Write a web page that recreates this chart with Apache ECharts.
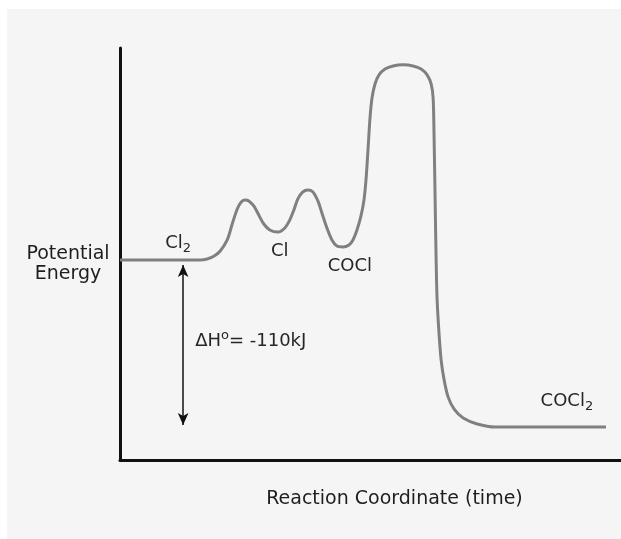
<!DOCTYPE html>
<html>
<head>
<meta charset="utf-8">
<script src="https://cdn.jsdelivr.net/npm/echarts@6/dist/echarts.min.js"></script>
<style>
  html, body { margin: 0; padding: 0; background: #fff; }
  #chart { width: 621px; height: 539px; }
</style>
</head>
<body>
<div id="chart"></div>
<script>
// reaction coordinate (0-100) and potential energy relative to Cl2 (kJ)
const coord = [0, 16.0, 17.4, 18.8, 20.0, 21.4, 22.4, 23.4, 24.2, 25.0, 25.7, 26.7, 27.7, 28.7, 29.9, 31.5,
  32.9, 33.9, 34.7, 35.5, 36.5, 37.5, 38.5, 39.5, 40.3, 41.3, 42.3, 43.3, 44.5, 45.7, 46.5, 47.3, 48.1,
  48.7, 49.1, 49.5, 49.9, 50.3, 50.9, 51.7, 52.9, 54.5, 56.5, 58.5, 60.1, 61.3, 62.1, 62.5,
  62.7, 62.9, 63.1, 63.3, 63.7, 64.1, 64.7, 65.5, 66.7, 68.5, 71.3, 74.9, 97.0];
const energy = [0, 0, 0.7, 2.6, 5.9, 13.2, 23.7, 33.6, 38.2, 39.5, 38.9, 35.6, 29.6, 23.7, 19.8, 18.4,
  21.1, 26.4, 32.9, 40.2, 44.8, 46.1, 44.8, 38.9, 31.0, 21.1, 13.2, 9.2, 8.6, 9.9, 13.2, 19.8, 29.0,
  39.5, 52.7, 72.5, 93.5, 106.7, 115.9, 121.9, 125.8, 127.8, 128.5, 127.8, 125.8, 121.9, 115.9, 106.7,
  79.1, 39.5, 0, -26.4, -49.4, -65.9, -79.1, -90.3, -98.2, -104.1, -108.0, -110, -110];

const speciesNames = ['{a|Cl}{s|2}', '{a|Cl}', '{a|COCl}', '{a|COCl}{s|2}', '{a|ΔH}{p|o}{a|= -110kJ}'];
const speciesPos = [[11.6, 11.2], [31.9, 5.9], [45.9, -4.0], [89.2, -92.9], [26.1, -53.4]];
const deltaH = [[12.6, -3.3], [12.6, -108.7]];

const font = 'DejaVu Sans';
const chart = echarts.init(document.getElementById('chart'));

const rich = {
  a: { fontFamily: font, fontSize: 18, color: '#262626' },
  s: { fontFamily: font, fontSize: 13, color: '#262626', padding: [12, 0, 0, 0] },
  p: { fontFamily: font, fontSize: 13, color: '#262626', padding: [0, 0, 10, 0] }
};

chart.setOption({
  animation: false,
  graphic: [{
    type: 'rect',
    z: -10,
    shape: { x: 7, y: 9, width: 614, height: 530 },
    style: { fill: '#f5f5f5' }
  }],
  grid: { left: 120, right: 0, top: 48, bottom: 79 },
  xAxis: {
    type: 'value',
    min: 0,
    max: 100,
    name: 'Reaction Coordinate (time)',
    nameLocation: 'middle',
    nameGap: 30,
    nameTextStyle: { fontFamily: font, fontSize: 19, color: '#1e1e1e', padding: [0, 0, 0, 48] },
    axisLine: { onZero: false, lineStyle: { color: '#111', width: 3 } },
    axisTick: { show: false },
    axisLabel: { show: false },
    splitLine: { show: false }
  },
  yAxis: {
    type: 'value',
    min: -131.7,
    max: 139.6,
    name: '\nPotential\nEnergy',
    nameLocation: 'middle',
    nameRotate: 0,
    nameGap: 52,
    nameTextStyle: { fontFamily: font, fontSize: 19, color: '#1e1e1e', lineHeight: 20, align: 'center' },
    axisLine: { onZero: false, lineStyle: { color: '#111', width: 3 } },
    axisTick: { show: false },
    axisLabel: { show: false },
    splitLine: { show: false }
  },
  series: [{
    type: 'line',
    data: coord.map((c, i) => [c, energy[i]]),
    smooth: 0.3,
    symbol: 'none',
    lineStyle: { color: '#808080', width: 3 },
    markPoint: {
      symbol: 'circle',
      symbolSize: 0,
      label: { show: true, position: 'inside', rich: rich },
      data: speciesNames.map((n, i) => ({ coord: speciesPos[i], label: { formatter: n } }))
    },
    markLine: {
      silent: true,
      symbol: ['arrow', 'arrow'],
      symbolSize: [8, 12],
      label: { show: false },
      lineStyle: { color: '#111', width: 1.5, type: 'solid' },
      data: [[{ coord: deltaH[0] }, { coord: deltaH[1] }]]
    }
  }]
});
</script>
</body>
</html>
